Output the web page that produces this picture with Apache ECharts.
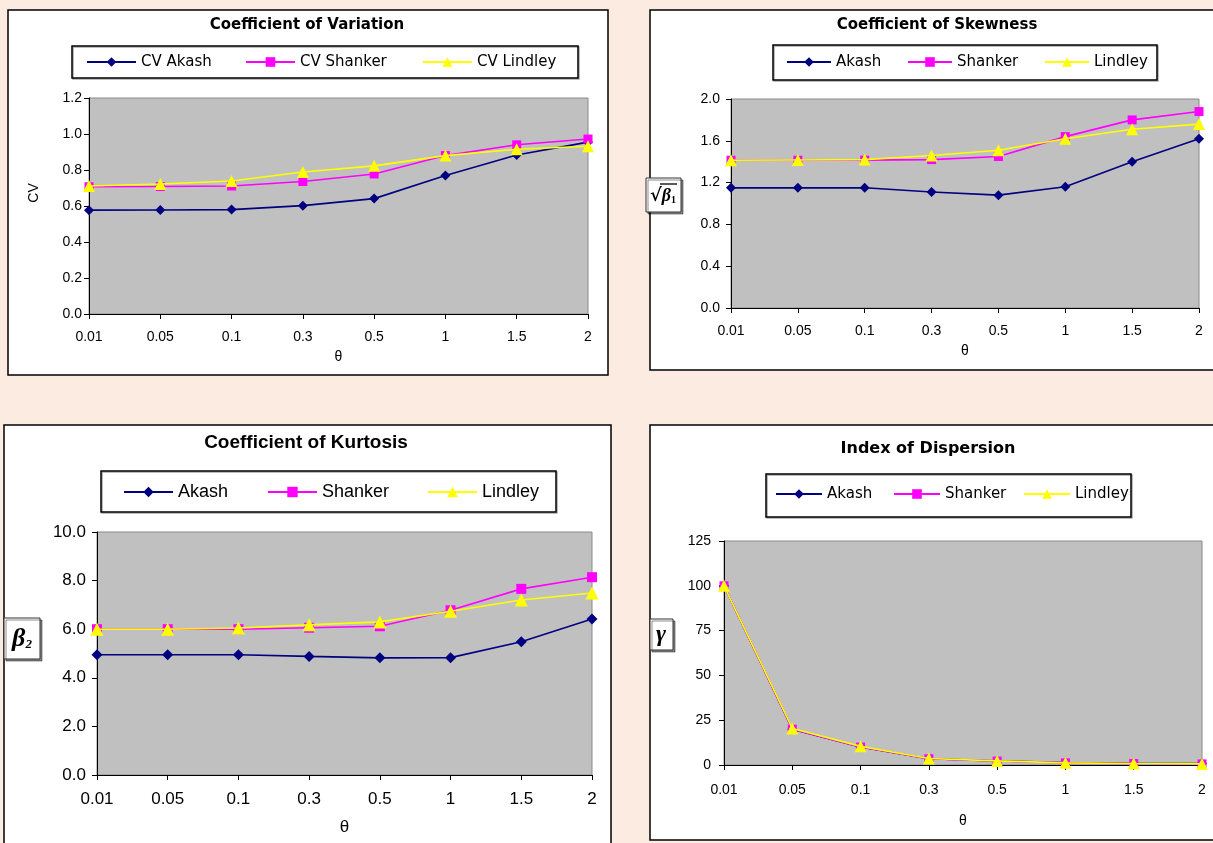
<!DOCTYPE html>
<html><head><meta charset="utf-8">
<script src="https://cdn.jsdelivr.net/npm/echarts@6/dist/echarts.min.js"></script>
<style>html,body{margin:0;padding:0;background:#FCEBE1}#c{width:1213px;height:843px}</style>
</head><body><div id="c"></div>
<script>
// ---- data ----
const thetaLabels = ['0.01','0.05','0.1','0.3','0.5','1','1.5','2'];

const cvAkash   = [0.577,0.578,0.580,0.602,0.641,0.769,0.883,0.955];
const cvShanker = [0.707,0.708,0.711,0.736,0.778,0.880,0.940,0.972];
const cvLindley = [0.711,0.722,0.739,0.789,0.823,0.880,0.915,0.932];

const skAkash   = [1.15,1.15,1.15,1.11,1.08,1.16,1.40,1.62];
const skShanker = [1.414,1.414,1.415,1.42,1.45,1.64,1.80,1.88];
const skLindley = [1.414,1.416,1.42,1.46,1.51,1.62,1.71,1.76];

const kuAkash   = [4.95,4.95,4.95,4.88,4.82,4.83,5.48,6.42];
const kuShanker = [6.00,6.00,6.00,6.06,6.12,6.78,7.66,8.14];
const kuLindley = [6.00,6.00,6.05,6.18,6.30,6.74,7.20,7.49];

const idAkash   = [100,20.0,10.1,3.5,2.3,1.4,1.0,0.8];
const idShanker = [100,20.0,10.0,3.5,2.2,1.2,0.8,0.6];
const idLindley = [100,20.4,10.4,3.6,2.3,1.2,0.8,0.6];

const cvNames = ['CV Akash','CV Shanker','CV Lindley'];
const distNames = ['Akash','Shanker','Lindley'];

const cvTicks = {min:0, max:1.2, interval:0.2, dec:1};
const skTicks = {min:0, max:2.0, interval:0.4, dec:1};
const kuTicks = {min:0, max:10, interval:2, dec:1};
const idTicks = {min:0, max:125, interval:25, dec:0};

// ---- layout / style ----
const NAVY='#000080', MAG='#FF00FF', YEL='#FFFF00';
const SANS='DejaVu Sans', ARIAL='Liberation Sans', SERIF='Liberation Serif';
const colors=[NAVY,MAG,YEL];
const symbols=['diamond','rect','triangle'];

const panels = [
 {grid:{left:89,top:98,width:499,height:216}, ticks:cvTicks, names:cvNames, data:[cvAkash,cvShanker,cvLindley],
  font:ARIAL, lfont:SANS, fs:14, xMargin:16, yMargin:7, nameGap:36, sym:[10,9,12],
  leg:{cy:62, xs:[86,245,422], fs:15, ih:12, iw:49}},
 {grid:{left:731,top:99,width:468,height:209}, ticks:skTicks, names:distNames, data:[skAkash,skShanker,skLindley],
  font:ARIAL, lfont:SANS, fs:14, xMargin:16, yMargin:11, nameGap:36, sym:[10,9,12],
  leg:{cy:62, xs:[786,907,1044], fs:15, ih:12, iw:44}},
 {grid:{left:97,top:532,width:495,height:243}, ticks:kuTicks, names:distNames, data:[kuAkash,kuShanker,kuLindley],
  font:ARIAL, lfont:ARIAL, fs:17, xMargin:16, yMargin:11, nameGap:44, sym:[11,10,13],
  leg:{cy:492, xs:[123,267,427], fs:18, ih:13, iw:49}},
 {grid:{left:724,top:541,width:478,height:224}, ticks:idTicks, names:distNames, data:[idAkash,idShanker,idLindley],
  font:ARIAL, lfont:SANS, fs:14, xMargin:18, yMargin:13, nameGap:49, sym:[10,9,12],
  leg:{cy:494, xs:[775,893,1023], fs:15, ih:12, iw:46}}
];

const option = {
  backgroundColor:'#FCEBE1',
  animation:false,
  grid:[], xAxis:[], yAxis:[], series:[], legend:[], graphic:[]
};

panels.forEach((p,i)=>{
  option.grid.push(Object.assign({show:true, backgroundColor:'#C0C0C0', borderColor:'#8a8a8a', borderWidth:1, containLabel:false}, p.grid));
  option.xAxis.push({
    type:'category', gridIndex:i, data:thetaLabels, boundaryGap:false,
    name:'θ', nameLocation:'middle', nameGap:p.nameGap,
    nameTextStyle:{fontFamily:p.font, fontSize:p.fs, color:'#000'},
    axisLine:{lineStyle:{color:'#000', width:1}},
    axisTick:{show:true, inside:false, length:5, alignWithLabel:true, lineStyle:{color:'#000'}},
    axisLabel:{fontFamily:p.font, fontSize:p.fs, color:'#000', margin:p.xMargin, interval:0},
    splitLine:{show:false}
  });
  option.yAxis.push({
    type:'value', gridIndex:i, min:p.ticks.min, max:p.ticks.max, interval:p.ticks.interval,
    axisLine:{show:true, lineStyle:{color:'#000', width:1}},
    axisTick:{show:true, inside:false, length:5, lineStyle:{color:'#000'}},
    axisLabel:{fontFamily:p.font, fontSize:p.fs, color:'#000', margin:p.yMargin,
      formatter:(v)=>Number(v).toFixed(p.ticks.dec)},
    splitLine:{show:false}
  });
  p.names.forEach((nm,k)=>{
    option.series.push({
      type:'line', name:nm, xAxisIndex:i, yAxisIndex:i, data:p.data[k],
      symbol:symbols[k], symbolSize:p.sym[k], showSymbol:true,
      lineStyle:{color:colors[k], width:1.6},
      itemStyle:{color:colors[k], borderWidth:0},
      emphasis:{disabled:true}, z:2+k
    });
    const lh = Math.round(p.leg.fs*1.15);
    const h = Math.max(lh, p.leg.ih);
    option.legend.push({
      left:p.leg.xs[k], top:p.leg.cy - h/2, orient:'horizontal', padding:0, itemGap:0,
      itemWidth:p.leg.iw, itemHeight:p.leg.ih, selectedMode:false, data:[nm],
      textStyle:{fontFamily:p.lfont, fontSize:p.leg.fs, color:'#000', lineHeight:lh}
    });
  });
});

// panel frames, legend boxes, titles, y-axis name boxes
const frames = [[8,10,600,365],[650,10,580,360],[4,425,607,430],[650,425,580,415]];
frames.forEach(f=>option.graphic.push({type:'rect', z:-10, shape:{x:f[0],y:f[1],width:f[2],height:f[3]},
  style:{fill:'#fff', stroke:'#000', lineWidth:1.5}}));

const legBoxes = [[72,46,506,32],[773,45,384,35],[101,471,455,41],[766,474,365,43]];
legBoxes.forEach(b=>option.graphic.push({type:'rect', z:10, shape:{x:b[0],y:b[1],width:b[2],height:b[3]},
  style:{fill:'none', stroke:'#000', lineWidth:1.5, shadowColor:'rgba(0,0,0,0.35)', shadowOffsetX:1, shadowOffsetY:1}}));

const titles = [
  {t:'Coefficient of Variation', x:307, y:25, fs:15, f:SANS},
  {t:'Coefficient of Skewness', x:937, y:25, fs:15, f:SANS},
  {t:'Coefficient of Kurtosis', x:306, y:443, fs:19, f:ARIAL},
  {t:'Index of Dispersion', x:928, y:449, fs:16, f:SANS}
];
titles.forEach(t=>option.graphic.push({type:'text', z:10, x:t.x, y:t.y,
  style:{text:t.t, fill:'#000', font:'bold '+t.fs+'px "'+t.f+'"', textAlign:'center', textVerticalAlign:'middle'}}));

// y-axis names
option.graphic.push({type:'text', z:10, x:34, y:193, rotation:Math.PI/2,
  style:{text:'CV', fill:'#000', font:'14px "Liberation Sans"', textAlign:'center', textVerticalAlign:'middle'}});

const nameBoxes = [[646,178,35,34],[4,618,36,41],[650,619,23,31]];
nameBoxes.forEach(b=>option.graphic.push({type:'rect', z:10, shape:{x:b[0],y:b[1],width:b[2],height:b[3]},
  style:{fill:'#fff', stroke:'#333', lineWidth:1, shadowColor:'rgba(0,0,0,0.45)', shadowOffsetX:2, shadowOffsetY:2}}));

option.graphic.push({type:'text', z:11, x:663, y:196,
  style:{text:'{r|√}{b|β}{s|1}', textAlign:'center', textVerticalAlign:'middle',
    rich:{r:{font:'bold 18px "DejaVu Serif"', fill:'#000'}, b:{font:'bold italic 18px "Liberation Serif"', fill:'#000'},
          s:{font:'bold 10px "Liberation Serif"', fill:'#000', padding:[8,0,0,0]}}}});
option.graphic.push({type:'line', z:11, shape:{x1:660,y1:184,x2:677,y2:184}, style:{stroke:'#000', lineWidth:1.3}});

option.graphic.push({type:'text', z:11, x:22, y:639,
  style:{text:'{b|β}{s|2}', textAlign:'center', textVerticalAlign:'middle',
    rich:{b:{font:'bold italic 26px "Liberation Serif"', fill:'#000'}, s:{font:'bold italic 13px "Liberation Serif"', fill:'#000', padding:[12,0,0,0]}}}});
option.graphic.push({type:'text', z:11, x:661, y:635,
  style:{text:'γ', fill:'#000', font:'bold italic 24px "Liberation Serif"', textAlign:'center', textVerticalAlign:'middle'}});

const chart = echarts.init(document.getElementById('c'));
chart.setOption(option);
</script>
</body></html>
